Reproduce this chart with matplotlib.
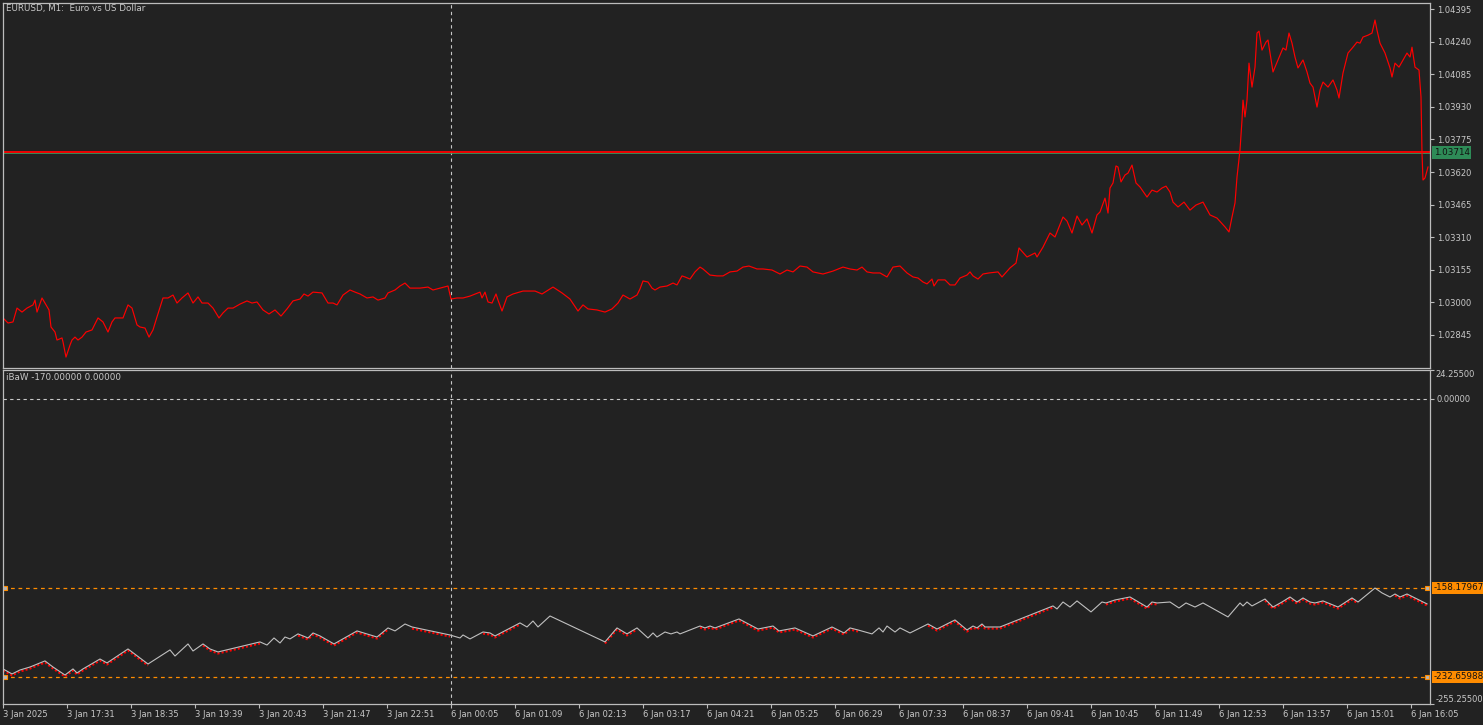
"""EURUSD M1 chart with iBaW indicator sub-window, MetaTrader-style dark theme."""
import numpy as np
import matplotlib
matplotlib.use("Agg")
import matplotlib.pyplot as plt

BG = "#222222"
FG = "#c8c8c8"
FRAME = "#bcbcbc"
ORANGE = "#ff8c00"

# ---- price pane (bar index, close) ----
price_bar = [0, 5, 10, 14, 19, 24, 30, 32, 34, 39, 42, 46, 48, 52, 54, 59, 60, 63, 67, 69,
             72, 75, 79, 83, 89, 95, 100, 105, 109, 112, 120, 125, 129, 134, 137, 142, 146, 150, 154, 160,
             165, 170, 174, 179, 185, 190, 195, 199, 205, 210, 216, 220, 225, 230, 237, 244, 249, 254, 260, 266,
             272, 278, 284, 290, 297, 301, 305, 310, 319, 325, 330, 334, 340, 347, 352, 357, 364, 370, 375, 382,
             385, 392, 397, 402, 407, 417, 425, 430, 437, 445, 448, 454, 460, 467, 477, 479, 482, 485, 489, 493,
             495, 499, 504, 510, 520, 532, 539, 550, 559, 567, 575, 580, 585, 594, 602, 609, 615, 620, 627, 634,
             637, 640, 645, 649, 652, 657, 664, 670, 674, 679, 682, 687, 692, 697, 700, 707, 714, 720, 727, 734,
             740, 746, 754, 760, 769, 777, 784, 790, 797, 804, 810, 820, 830, 840, 847, 854, 859, 864, 870, 877,
             884, 890, 897, 904, 910, 915, 920, 924, 929, 931, 935, 942, 947, 952, 957, 964, 967, 970, 975, 980,
             986, 995, 999, 1007, 1013, 1016, 1024, 1032, 1034, 1040, 1047, 1052, 1060, 1064, 1069, 1074, 1079, 1084, 1089, 1094,
             1097, 1102, 1105, 1107, 1110, 1113, 1115, 1118, 1122, 1125, 1129, 1133, 1137, 1144, 1149, 1154, 1159, 1163, 1167, 1170,
             1175, 1181, 1187, 1193, 1200, 1207, 1214, 1222, 1226, 1229, 1232, 1234, 1237, 1239, 1240, 1242, 1244, 1246, 1249, 1252,
             1254, 1256, 1259, 1263, 1265, 1270, 1275, 1280, 1283, 1286, 1289, 1292, 1295, 1300, 1304, 1307, 1310, 1314, 1317, 1320,
             1325, 1330, 1334, 1336, 1340, 1345, 1350, 1354, 1357, 1360, 1365, 1369, 1372, 1374, 1377, 1382, 1387, 1389, 1392, 1396,
             1400, 1404, 1407, 1409, 1412, 1416, 1418, 1419, 1420, 1422, 1425]
price_close = [1.02926, 1.02902, 1.02907, 1.02973, 1.02954, 1.02973, 1.02988, 1.03011, 1.02954, 1.03021,
               1.02997, 1.02964, 1.02883, 1.02859, 1.02821, 1.02831, 1.02812, 1.02740, 1.02797, 1.02821,
               1.02835, 1.02821, 1.02835, 1.02859, 1.02869, 1.02926, 1.02907, 1.02859, 1.02907, 1.02926,
               1.02926, 1.02988, 1.02973, 1.02893, 1.02883, 1.02878, 1.02835, 1.02869, 1.02931, 1.03021,
               1.03021, 1.03035, 1.02997, 1.03021, 1.03045, 1.02997, 1.03026, 1.02997, 1.02997, 1.02973,
               1.02926, 1.02950, 1.02973, 1.02973, 1.02992, 1.03007, 1.02997, 1.03002, 1.02964, 1.02945,
               1.02964, 1.02935, 1.02969, 1.03007, 1.03016, 1.03040, 1.03030, 1.03049, 1.03045, 1.02997,
               1.02997, 1.02988, 1.03035, 1.03059, 1.03049, 1.03040, 1.03021, 1.03026, 1.03011, 1.03021,
               1.03045, 1.03059, 1.03078, 1.03092, 1.03068, 1.03068, 1.03073, 1.03059, 1.03068, 1.03078,
               1.03016, 1.03021, 1.03021, 1.03030, 1.03049, 1.03021, 1.03049, 1.03002, 1.02997, 1.03040,
               1.03011, 1.02959, 1.03026, 1.03040, 1.03054, 1.03054, 1.03040, 1.03073, 1.03045, 1.03016,
               1.02959, 1.02988, 1.02969, 1.02964, 1.02954, 1.02969, 1.02997, 1.03035, 1.03016, 1.03035,
               1.03064, 1.03102, 1.03097, 1.03068, 1.03059, 1.03073, 1.03078, 1.03092, 1.03083, 1.03126,
               1.03121, 1.03111, 1.03145, 1.03168, 1.03159, 1.03130, 1.03126, 1.03126, 1.03145, 1.03149,
               1.03168, 1.03173, 1.03159, 1.03159, 1.03154, 1.03135, 1.03154, 1.03145, 1.03173, 1.03168,
               1.03145, 1.03135, 1.03149, 1.03168, 1.03159, 1.03154, 1.03168, 1.03145, 1.03140, 1.03140,
               1.03121, 1.03168, 1.03173, 1.03140, 1.03121, 1.03116, 1.03097, 1.03088, 1.03111, 1.03078,
               1.03107, 1.03107, 1.03083, 1.03083, 1.03116, 1.03130, 1.03145, 1.03126, 1.03111, 1.03135,
               1.03140, 1.03145, 1.03121, 1.03164, 1.03187, 1.03259, 1.03216, 1.03235, 1.03216, 1.03263,
               1.03330, 1.03311, 1.03406, 1.03387, 1.03330, 1.03411, 1.03368, 1.03397, 1.03330, 1.03416,
               1.03430, 1.03496, 1.03425, 1.03544, 1.03568, 1.03649, 1.03644, 1.03573, 1.03606, 1.03615,
               1.03653, 1.03568, 1.03549, 1.03501, 1.03534, 1.03525, 1.03544, 1.03553, 1.03525, 1.03477,
               1.03454, 1.03477, 1.03439, 1.03463, 1.03477, 1.03416, 1.03401, 1.03359, 1.03335, 1.03406,
               1.03473, 1.03596, 1.03725, 1.03867, 1.03962, 1.03882, 1.03962, 1.04138, 1.04024, 1.04119,
               1.04281, 1.04290, 1.04200, 1.04238, 1.04248, 1.04096, 1.04153, 1.04210, 1.04200, 1.04281,
               1.04233, 1.04167, 1.04115, 1.04153, 1.04096, 1.04043, 1.04024, 1.03929, 1.04010, 1.04048,
               1.04024, 1.04058, 1.04010, 1.03972, 1.04091, 1.04186, 1.04214, 1.04238, 1.04233, 1.04262,
               1.04271, 1.04281, 1.04343, 1.04295, 1.04233, 1.04186, 1.04115, 1.04072, 1.04138, 1.04119,
               1.04153, 1.04186, 1.04167, 1.04214, 1.04119, 1.04105, 1.03977, 1.03710, 1.03582, 1.03592,
               1.03644]
hline_price = 1.03714
price_ticks = [1.04395, 1.04240, 1.04085, 1.03930, 1.03775, 1.03620,
               1.03465, 1.03310, 1.03155, 1.03000, 1.02845]

# ---- iBaW indicator pane ----
ind_bar = [0, 9, 17, 27, 42, 50, 62, 70, 74, 80, 97, 104, 125, 145, 167, 172, 185, 190, 200, 207,
           215, 257, 264, 271, 277, 282, 287, 295, 305, 310, 317, 331, 354, 374, 385, 392, 402, 409, 447, 457,
           460, 467, 480, 487, 492, 517, 524, 530, 535, 547, 602, 614, 624, 634, 645, 650, 654, 662, 668, 674,
           677, 697, 702, 707, 712, 736, 755, 770, 776, 792, 810, 829, 841, 847, 855, 869, 876, 880, 884, 892,
           897, 907, 925, 934, 952, 964, 970, 974, 979, 982, 997, 1050, 1054, 1060, 1067, 1074, 1088, 1099, 1103, 1112,
           1127, 1144, 1149, 1154, 1167, 1176, 1183, 1192, 1200, 1225, 1237, 1240, 1244, 1249, 1262, 1270, 1279, 1287, 1294, 1300,
           1307, 1312, 1320, 1325, 1335, 1349, 1355, 1372, 1379, 1387, 1392, 1397, 1404, 1410, 1424]
ind_val = [-225.9, -230.1, -226.8, -224.3, -219.2, -224.3, -231.0, -225.9, -229.3, -225.9,
           -217.6, -220.9, -209.2, -221.8, -210.0, -215.1, -205.0, -210.9, -205.0, -209.2,
           -211.7, -203.3, -205.9, -200.0, -204.2, -199.2, -200.8, -196.6, -200.0, -195.8,
           -198.3, -205.0, -194.1, -199.2, -191.6, -194.1, -188.3, -190.8, -197.5, -200.0,
           -197.5, -200.8, -195.0, -195.8, -198.3, -187.4, -190.8, -185.8, -190.8, -181.6,
           -203.3, -191.6, -196.6, -191.6, -200.0, -195.8, -199.2, -195.0, -196.6, -195.0,
           -196.6, -190.0, -191.6, -190.0, -191.6, -184.1, -192.5, -190.0, -194.1, -191.6,
           -198.3, -190.8, -195.8, -191.6, -193.3, -196.6, -191.6, -195.0, -190.0, -195.0,
           -191.6, -195.8, -188.3, -192.5, -184.9, -193.3, -190.0, -191.6, -188.3, -190.8,
           -190.8, -173.2, -175.7, -169.9, -174.1, -169.0, -178.2, -169.9, -170.7, -168.2,
           -165.7, -174.1, -169.9, -170.7, -169.9, -174.9, -170.7, -174.1, -170.7, -182.4,
           -170.7, -173.2, -169.9, -173.2, -167.4, -174.1, -169.9, -165.7, -169.9, -166.5,
           -169.9, -170.7, -169.0, -170.7, -174.1, -166.5, -169.9, -158.2, -162.3, -165.7,
           -163.2, -165.7, -163.2, -165.7, -171.5]
# stretches where the red trace is not visible under the grey one
red_gaps = [(160, 200), (262, 292), (388, 408), (452, 478), (520, 548), (640, 690),
            (862, 912), (1050, 1100), (1160, 1210), (1225, 1262), (1355, 1392)]
level_hi = -158.17967
level_lo = -232.65988
ind_min, ind_max = -255.255, 24.255

tick_pos = list(range(0, 1409, 64))
tick_lab = ["3 Jan 2025", "3 Jan 17:31", "3 Jan 18:35", "3 Jan 19:39", "3 Jan 20:43",
            "3 Jan 21:47", "3 Jan 22:51", "6 Jan 00:05", "6 Jan 01:09", "6 Jan 02:13",
            "6 Jan 03:17", "6 Jan 04:21", "6 Jan 05:25", "6 Jan 06:29", "6 Jan 07:33",
            "6 Jan 08:37", "6 Jan 09:41", "6 Jan 10:45", "6 Jan 11:49", "6 Jan 12:53",
            "6 Jan 13:57", "6 Jan 15:01", "6 Jan 16:05"]
crosshair_bar = 448

W, H = 1483, 725
fig = plt.figure(figsize=(W / 100, H / 100), dpi=100, facecolor=BG)
ax1 = fig.add_axes([3 / W, 1 - 368 / H, 1427 / W, 365 / H])
ax2 = fig.add_axes([3 / W, 1 - 704 / H, 1427 / W, 334 / H])

for ax in (ax1, ax2):
    ax.set_facecolor(BG)
    for s in ax.spines.values():
        s.set_color(FRAME)
        s.set_linewidth(0.9)
    ax.set_xlim(0, 1427)
    ax.yaxis.tick_right()
    ax.tick_params(axis="y", colors=FRAME, labelcolor=FG, labelsize=6, length=3, width=0.8, pad=2)
    ax.axvline(crosshair_bar, color=FG, lw=0.8, dashes=(3, 3))

# price pane
ax1.set_ylim(1.02688, 1.04424)
ax1.set_xticks([])
ax1.set_yticks(price_ticks)
ax1.set_yticklabels([f"{v:.5f}" for v in price_ticks])
ax1.axhline(hline_price - 0.00003, color="#3c9a5f", lw=0.6)
ax1.axhline(hline_price, color="#ff0000", lw=1.3)
ax1.plot(price_bar, price_close, color="#ff0000", lw=0.85)
ax1.text(1.0025, hline_price, f"{hline_price:.5f}", transform=ax1.get_yaxis_transform(),
         ha="left", va="center", fontsize=6.3, color="#111111", clip_on=False,
         bbox=dict(boxstyle="square,pad=0.2", fc="#2e8b57", ec="none"))
fig.text(6 / W, 1 - 9 / H, "EURUSD, M1:  Euro vs US Dollar", color=FG, fontsize=6.3, va="center")

# indicator pane
ax2.set_ylim(ind_min, ind_max)
ax2.set_yticks([ind_max, 0, ind_min])
ax2.set_yticklabels(["", "0.00000", ""])
ax2.text(1.004, ind_max, f"{ind_max:.5f}", transform=ax2.get_yaxis_transform(),
         ha="left", va="top", fontsize=6, color=FG, clip_on=False)
ax2.text(1.004, ind_min, f"{ind_min:.5f}", transform=ax2.get_yaxis_transform(),
         ha="left", va="bottom", fontsize=6, color=FG, clip_on=False)
ax2.axhline(0, color=FG, lw=0.8, dashes=(3, 3))
for lv in (level_hi, level_lo):
    ax2.axhline(lv, color=ORANGE, lw=0.9, dashes=(3, 3))
    ax2.plot([2, 1424], [lv, lv], ls="none", marker="s", ms=3.5, mfc="#b4b4b4", mec=ORANGE, mew=0.8)
    ax2.text(1.0025, lv, f"{lv:.5f}", transform=ax2.get_yaxis_transform(),
             ha="left", va="center", fontsize=6.3, color="#111111", clip_on=False,
             bbox=dict(boxstyle="square,pad=0.2", fc=ORANGE, ec="none"))

ib = np.array(ind_bar, dtype=float)
iv = np.array(ind_val)
red = iv - 1.3
for a, b in red_gaps:
    red[(ib > a) & (ib < b)] = np.nan
ax2.plot(ib, red, color="#ff0000", lw=1.5, ls=(0, (1, 1)))
ax2.plot(ib, iv, color="#c0c0c0", lw=0.8)
ax2.set_xticks(tick_pos)
ax2.set_xticklabels(tick_lab)
ax2.tick_params(axis="x", colors=FRAME, labelcolor=FG, labelsize=6, length=3, width=0.8, pad=1)
for lab in ax2.get_xticklabels():
    lab.set_ha("left")
fig.text(6 / W, 1 - 378 / H, "iBaW -170.00000 0.00000", color=FG, fontsize=6.3, va="center")

fig.savefig("out.png", dpi=100, facecolor=BG)
